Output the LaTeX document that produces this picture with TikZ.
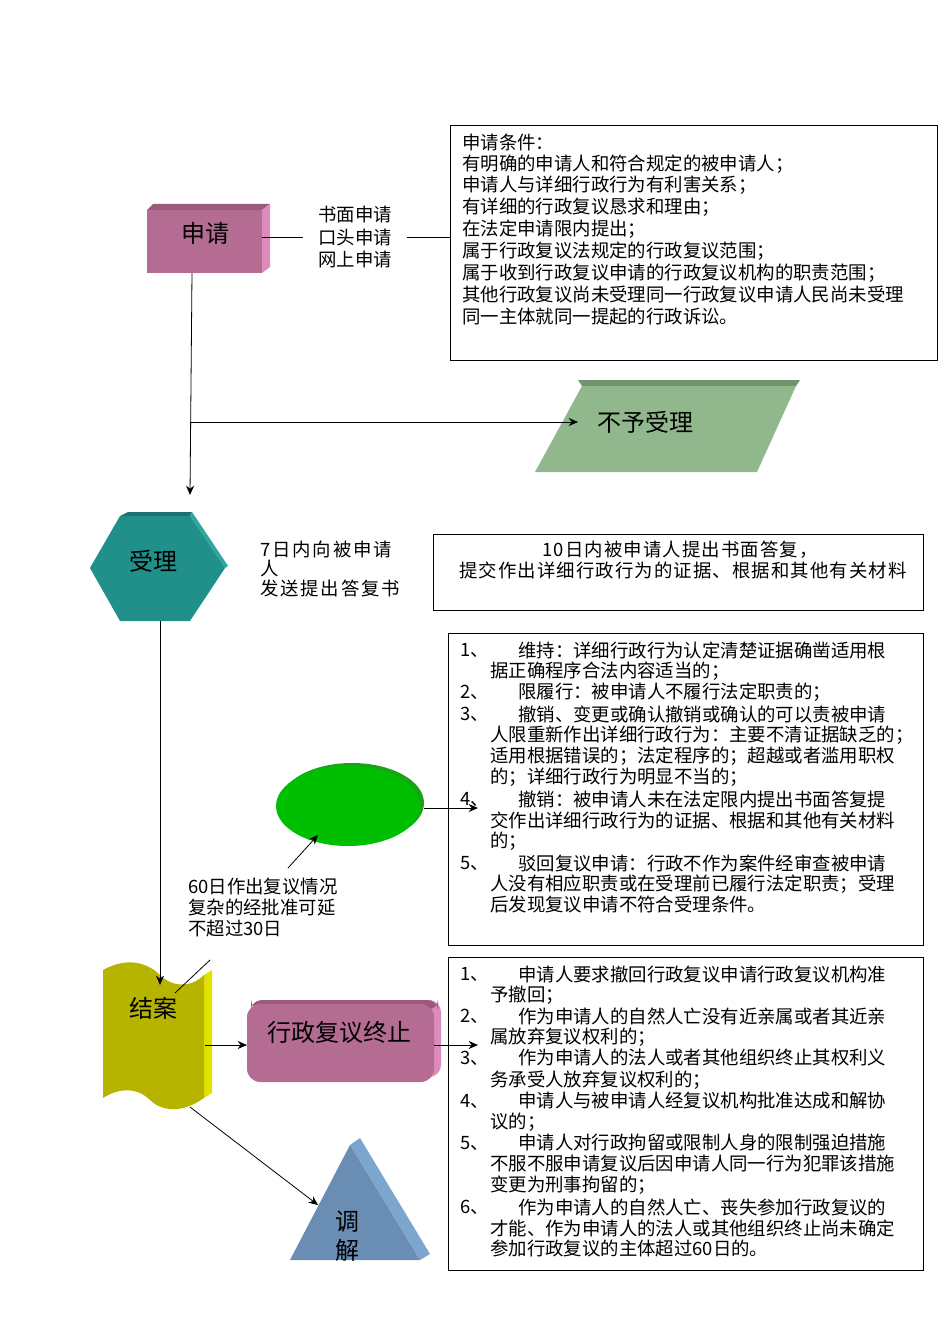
\documentclass[tikz,border=0pt]{standalone}
\usepackage{fontspec}
\setmainfont{Noto Sans CJK SC}
\usetikzlibrary{arrows.meta}
\begin{document}
\begin{tikzpicture}[x=0.75pt,y=-0.75pt,
  txt/.style={font=\fontsize{13.8}{15}\selectfont,inner sep=0pt,anchor=west},
  big/.style={font=\fontsize{18}{20}\selectfont,inner sep=0pt},
  box/.style={draw,line width=0.8pt},
  arr/.style={-{Stealth[length=7pt,width=6pt]},line width=0.6pt},
  ln/.style={line width=0.6pt}]
\useasboundingbox (0,0) rectangle (950,1344);
\definecolor{pk}{HTML}{B46C92}\definecolor{pkl}{HTML}{DC8CB8}\definecolor{pkd}{HTML}{9A5A7C}
\definecolor{gr}{HTML}{90B88C}\definecolor{tl}{HTML}{218F8A}\definecolor{tll}{HTML}{2FA6A0}
\definecolor{yl}{HTML}{B7B400}\definecolor{yll}{HTML}{E2E200}\definecolor{bl}{HTML}{6A8DB4}\definecolor{bll}{HTML}{7DA6CF}
% shen qing
\fill[pkd] (147,210)--(153,204)--(270,204)--(262,210)--cycle;
\fill[pkl] (262,210)--(270,204)--(270,267)--(262,273)--cycle;
\fill[pk] (147,210) rectangle (262,273);
\node[big] (sq) at (205,233) {申请};
\coordinate (sqr) at (262,237);
\node[txt,anchor=center] (t1) at (355,215) {书面申请};
\node[txt,anchor=center] (t2) at (355,237) {口头申请};
\node[txt,anchor=center] (t3) at (355,259) {网上申请};
\draw[ln] (sqr) -- (303,237);
\draw[ln] (407,237) -- (450,237);
\node[box,minimum width=487*0.75pt,minimum height=235*0.75pt,anchor=north west] (cond) at (450,125) {};
\foreach \t [count=\i from 0] in {申请条件：,有明确的申请人和符合规定的被申请人；,申请人与详细行政行为有利害关系；,有详细的行政复议恳求和理由；,在法定申请限内提出；,属于行政复议法规定的行政复议范围；,属于收到行政复议申请的行政复议机构的职责范围；,其他行政复议尚未受理同一行政复议申请人民尚未受理,同一主体就同一提起的行政诉讼。}
  \node[txt] at (462,142+21.8*\i) {\t};
% main line
\coordinate (sqb) at (192,273);
\coordinate (hx) at (190,495);
\draw[arr] (sqb) -- (hx);
\coordinate (br) at (190,422);
% bu yu shou li
\fill[gr!80!black] (578,380)--(800,380)--(796,386)--(582,386)--cycle;
\fill[gr] (582,386)--(796,386)--(757,472)--(535,472)--cycle;
\node[big] (byl) at (645,422) {不予受理};
\draw[arr] (br) -- (578,422);
% hexagon
\fill[tl!80!black] (120,516)--(128,512)--(192,512)--(190,516)--cycle;
\fill[tll] (190,516)--(192,512)--(228,566)--(225,568)--cycle;
\fill[tl] (90,568)--(120,516)--(190,516)--(225,568)--(190,621)--(120,621)--cycle;
\node[big] (sl) at (153,561) {受理};
\node[txt,font=\fontsize{13.8}{15}\selectfont\addfontfeatures{LetterSpace=10}] at (260,550) {7日内向被申请};
\node[txt] at (260,568) {人};
\node[txt,font=\fontsize{13.8}{15}\selectfont\addfontfeatures{LetterSpace=10}] at (260,588) {发送提出答复书};
\node[box,minimum width=490*0.75pt,minimum height=76*0.75pt,anchor=north west] (dafu) at (433,534) {};
\node[txt,anchor=center,font=\fontsize{13.8}{15}\selectfont\addfontfeatures{LetterSpace=6}] at (680,550) {10日内被申请人提出书面答复，};
\node[txt,anchor=center,font=\fontsize{13.8}{15}\selectfont\addfontfeatures{LetterSpace=6}] at (683,570) {提交作出详细行政行为的证据、根据和其他有关材料};
% decision box
\node[box,minimum width=475*0.75pt,minimum height=312*0.75pt,anchor=north west] (dec) at (448,633) {};
\node[txt] at (460,650) {1、};\node[txt] at (518,650) {维持：详细行政行为认定清楚证据确凿适用根};
\node[txt] at (490,671) {据正确程序合法内容适当的；};
\node[txt] at (460,692) {2、};\node[txt] at (518,692) {限履行：被申请人不履行法定职责的；};
\node[txt] at (460,714) {3、};\node[txt] at (518,714) {撤销、变更或确认撤销或确认的可以责被申请};
\node[txt] at (490,735) {人限重新作出详细行政行为：主要不清证据缺乏的；};
\node[txt] at (490,756) {适用根据错误的；法定程序的；超越或者滥用职权};
\node[txt] at (490,777) {的；详细行政行为明显不当的；};
\node[txt] at (460,799) {4、};\node[txt] at (518,799) {撤销：被申请人未在法定限内提出书面答复提};
\node[txt] at (490,820) {交作出详细行政行为的证据、根据和其他有关材料};
\node[txt] at (490,841) {的；};
\node[txt] at (460,863) {5、};\node[txt] at (518,863) {驳回复议申请：行政不作为案件经审查被申请};
\node[txt] at (490,884) {人没有相应职责或在受理前已履行法定职责；受理};
\node[txt] at (490,905) {后发现复议申请不符合受理条件。};
% ellipse
\fill[green!60!black!90] (352,803) ellipse [x radius=72, y radius=40];
\fill[green!75!black] (348,806) ellipse [x radius=72, y radius=40];
\node[inner sep=0pt] (el) at (350,805) {};
\coordinate (elr) at (424,808);
\draw[arr] (elr) -- (478,808);
\coordinate (elb) at (318,835);
\draw[arr] (288,868) -- (elb);
\node[txt] at (188,887) {60日作出复议情况};
\node[txt] at (188,908) {复杂的经批准可延};
\node[txt] at (188,929) {不超过30日};
% jie an
\fill[yll] (204,975) -- (212,970) -- (212,1093) -- (204,1098) -- cycle;
\fill[yl] (103,970) .. controls (130,955) and (150,965) .. (160,975) .. controls (175,990) and (195,985) .. (204,975)
  -- (204,1098) .. controls (180,1115) and (160,1110) .. (150,1100) .. controls (135,1085) and (115,1090) .. (103,1098) -- cycle;
\node[big] (ja) at (153,1008) {结案};
\coordinate (jat) at (160,985);
\draw[arr] (160,621) -- (jat);
\draw[ln] (210,960) -- (175,993);
% zhong zhi
\fill[pkl,rounded corners=9pt] (420,1000) rectangle (441,1077);
\fill[pkd,rounded corners=8pt] (251,1000) rectangle (438,1010);
\fill[pk,rounded corners=10pt] (247,1004) rectangle (434,1082);
\node[big] (zz) at (339,1032) {行政复议终止};
\draw[arr] (205,1045) -- (247,1045);
\draw[arr] (434,1045) -- (478,1045);
% triangle
\fill[bll] (360,1138) -- (430,1254) -- (420,1260) -- (350,1145) -- cycle;
\fill[bl] (350,1145) -- (420,1260) -- (290,1260) -- cycle;
\node[big] (tj) at (347,1222) {调};
\node[big] at (347,1250) {解};
\coordinate (trl) at (318,1205);
\draw[arr] (190,1107) -- (trl);
% termination box
\node[box,minimum width=475*0.75pt,minimum height=313*0.75pt,anchor=north west] (term) at (448,957) {};
\node[txt] at (460,974) {1、};\node[txt] at (518,974) {申请人要求撤回行政复议申请行政复议机构准};
\node[txt] at (490,995) {予撤回；};
\node[txt] at (460,1016) {2、};\node[txt] at (518,1016) {作为申请人的自然人亡没有近亲属或者其近亲};
\node[txt] at (490,1037) {属放弃复议权利的；};
\node[txt] at (460,1058) {3、};\node[txt] at (518,1058) {作为申请人的法人或者其他组织终止其权利义};
\node[txt] at (490,1080) {务承受人放弃复议权利的；};
\node[txt] at (460,1101) {4、};\node[txt] at (518,1101) {申请人与被申请人经复议机构批准达成和解协};
\node[txt] at (490,1122) {议的；};
\node[txt] at (460,1143) {5、};\node[txt] at (518,1143) {申请人对行政拘留或限制人身的限制强迫措施};
\node[txt] at (490,1164) {不服不服申请复议后因申请人同一行为犯罪该措施};
\node[txt] at (490,1185) {变更为刑事拘留的；};
\node[txt] at (460,1207) {6、};\node[txt] at (518,1207) {作为申请人的自然人亡、丧失参加行政复议的};
\node[txt] at (490,1228) {才能、作为申请人的法人或其他组织终止尚未确定};
\node[txt] at (490,1249) {参加行政复议的主体超过60日的。};
\end{tikzpicture}
\end{document}
